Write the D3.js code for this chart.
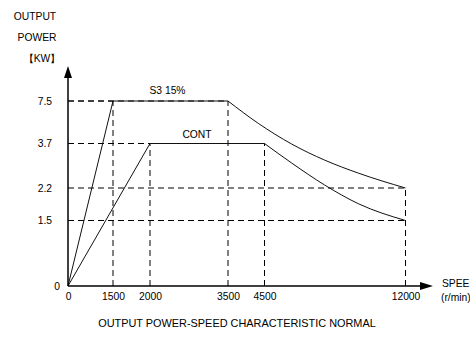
<!DOCTYPE html>
<html><head><meta charset="utf-8">
<script src="https://cdn.jsdelivr.net/npm/d3@7"></script>
<style>
html,body{margin:0;padding:0;background:#fff;}
svg{display:block;font-family:"Liberation Sans",Arial,sans-serif;}
</style></head>
<body><svg id="c" width="470" height="340"></svg>
<script>
// ---- data ----
const speedTicks = [0, 1500, 2000, 3500, 4500, 12000];
const powerTicks = [0, 1.5, 2.2, 3.7, 7.5];
const s3Speed = [0, 1500, 3500, 4330, 5950, 7700, 9500, 12000];
const s3Power = [0, 7.5, 7.5, 5.5, 3.68, 3.14, 2.70, 2.2];
const contSpeed = [0, 2000, 4500, 5950, 7700, 9500, 12000];
const contPower = [0, 3.7, 3.7, 3.04, 2.30, 1.86, 1.5];
const s3Label = "S3 15%";
const contLabel = "CONT";
const yTitle = ["OUTPUT", "POWER", "【KW】"];
const xTitle = ["SPEED", "(r/min)"];
const caption = "OUTPUT POWER-SPEED CHARACTERISTIC NORMAL";
// guide lines: [speed, power] corner points
const guides = [[1500, 7.5], [2000, 3.7], [3500, 7.5], [4500, 3.7], [12000, 2.2], [12000, 1.5]];

const svg = d3.select("#c");
const x = d3.scaleLinear().domain(speedTicks).range([68, 113, 150, 228, 264.5, 405.5]);
const y = d3.scaleLinear().domain(powerTicks).range([286, 220.5, 188, 143.5, 101]);

// dashed guides
const g = svg.append("g").attr("stroke", "#000").attr("stroke-width", 1).attr("stroke-dasharray", "6,4").attr("fill", "none");
guides.forEach(([s, p]) => {
  g.append("line").attr("x1", x(0)).attr("x2", x(s)).attr("y1", y(p)).attr("y2", y(p));
});
const vert = {};
guides.forEach(([s, p]) => { vert[s] = Math.max(vert[s] || 0, p); });
Object.keys(vert).forEach(s => {
  g.append("line").attr("x1", x(+s)).attr("x2", x(+s)).attr("y1", y(0)).attr("y2", y(vert[s]));
});

// curves
function drawSeries(sp, pw, knee) {
  const pts = sp.map((s, i) => [x(s), y(pw[i])]);
  svg.append("path").attr("d", d3.line().curve(d3.curveLinear)(pts.slice(0, knee + 1)))
    .attr("fill", "none").attr("stroke", "#111").attr("stroke-width", 1);
  svg.append("path").attr("d", d3.line().curve(d3.curveMonotoneX)(pts.slice(knee)))
    .attr("fill", "none").attr("stroke", "#111").attr("stroke-width", 1);
}
drawSeries(s3Speed, s3Power, 2);
drawSeries(contSpeed, contPower, 2);

// axes lines with arrows
svg.append("line").attr("x1", x(0)).attr("x2", x(0)).attr("y1", y(0)).attr("y2", 74)
  .attr("stroke", "#000").attr("stroke-width", 1.5);
svg.append("path").attr("d", `M${x(0)},66 L${x(0) - 4},78 L${x(0) + 4},78 Z`).attr("fill", "#000");
svg.append("line").attr("x1", x(0)).attr("x2", 424).attr("y1", y(0)).attr("y2", y(0))
  .attr("stroke", "#000").attr("stroke-width", 1.5);
svg.append("path").attr("d", `M433,${y(0)} L420,${y(0) - 4} L420,${y(0) + 4} Z`).attr("fill", "#000");

// tick labels via axes
const ax = svg.append("g").attr("transform", `translate(0,${y(0)})`)
  .call(d3.axisBottom(x).tickValues(speedTicks).tickSize(0).tickPadding(7).tickFormat(d3.format("d")));
ax.select(".domain").remove();
ax.selectAll("text").attr("font-size", 10.3).attr("font-family", "Liberation Sans, Arial, sans-serif").attr("fill", "#000");

const ay = svg.append("g").attr("transform", `translate(${x(0)},0)`)
  .call(d3.axisLeft(y).tickValues(powerTicks).tickSize(0).tickPadding(16).tickFormat(d => d === 0 ? "0" : d3.format(".1f")(d)));
ay.select(".domain").remove();
ay.selectAll("text").attr("font-size", 10.3).attr("font-family", "Liberation Sans, Arial, sans-serif").attr("fill", "#000")
  .attr("dx", d => d === 0 ? 8 : 0);

// titles
const t = svg.append("g").attr("font-size", 10.3).attr("fill", "#000");
t.append("text").attr("x", 35).attr("y", 20).attr("text-anchor", "middle").text(yTitle[0]);
t.append("text").attr("x", 37).attr("y", 41).attr("text-anchor", "middle").text(yTitle[1]);
t.append("text").attr("x", 42).attr("y", 62).attr("text-anchor", "middle").text(yTitle[2]);
t.append("text").attr("x", 442).attr("y", 287).text(xTitle[0]);
t.append("text").attr("x", 441).attr("y", 301).text(xTitle[1]);
t.append("text").attr("x", (x(1500) + x(3500)) / 2 - 3).attr("y", y(7.5) - 7).attr("text-anchor", "middle").text(s3Label);
t.append("text").attr("x", 197).attr("y", y(3.7) - 6).attr("text-anchor", "middle").text(contLabel);
t.append("text").attr("x", 237).attr("y", 327).attr("text-anchor", "middle").attr("font-size", 10.9).text(caption);
</script></body></html>
